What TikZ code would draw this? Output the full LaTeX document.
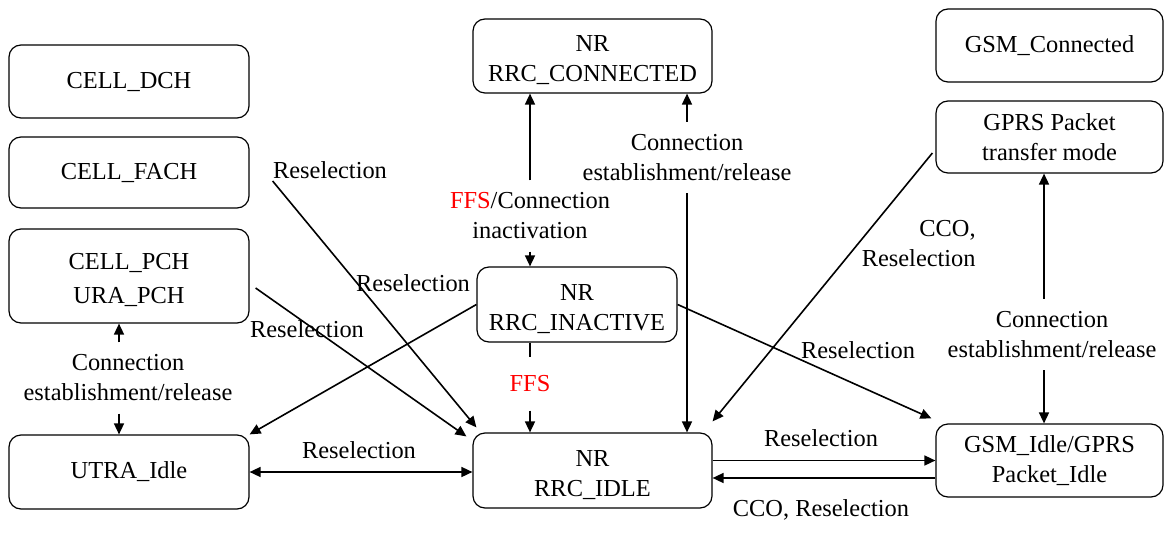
\documentclass[tikz,border=0pt]{standalone}
\usepackage{fontspec}
\setmainfont{Liberation Serif}
\usetikzlibrary{arrows.meta}
\tikzset{state/.style = {draw, rounded corners = 6pt, align = center, inner sep = 0, line width = 0.6pt}}
\tikzset{lbl/.style = {align = center, inner sep = 0}}
\tikzset{vlbl/.style = {align = center, inner sep = 6pt}}
\tikzset{arr/.style = {line width = 0.8pt, -{Triangle[length = 5.5pt, width = 5pt]}}}
\tikzset{dbl/.style = {line width = 0.8pt, {Triangle[length = 5.5pt, width = 5pt]}-{Triangle[length = 5.5pt, width = 5pt]}}}
\newcommand\topstrut{\rule{0pt}{12.5pt}}

\begin{document}
\begin{tikzpicture}[x = 0.5pt, y = -0.5pt, font = \fontsize{12.2}{15}\selectfont]
    \useasboundingbox (0, 0) rectangle (1165, 534);

    % UTRA states
    \node [state, minimum width = 120pt, minimum height = 36.5pt] (dch) at (129, 81.5) {CELL\_DCH};
    \node [state, minimum width = 120pt, minimum height = 35.5pt] (fach) at (129, 172.5) {CELL\_FACH};
    \node [state, minimum width = 120pt, minimum height = 47pt] (pch) at (129, 276) {\topstrut CELL\_PCH\\[2pt]URA\_PCH};
    \node [state, minimum width = 120pt, minimum height = 37pt] (utra) at (129, 472) {UTRA\_Idle};

    % NR states
    \node [state, minimum width = 119.5pt, minimum height = 37pt] (conn) at (592.5, 56) {\topstrut NR\\RRC\_CONNECTED};
    \node [state, minimum width = 100pt, minimum height = 37.5pt] (inact) at (577, 304.5) {\topstrut NR\\RRC\_INACTIVE};
    \node [state, minimum width = 119.5pt, minimum height = 37.5pt] (idle) at (592.5, 470.5) {\topstrut NR\\RRC\_IDLE};

    % GSM states
    \node [state, minimum width = 113.5pt, minimum height = 36.5pt] (gsmc) at (1049.5, 45.5) {GSM\_Connected};
    \node [state, minimum width = 113.5pt, minimum height = 36pt] (gprs) at (1049.5, 137) {GPRS Packet\\transfer mode};
    \node [state, minimum width = 113.5pt, minimum height = 36.5pt] (gsmi) at (1049.5, 460.5) {GSM\_Idle/GPRS\\Packet\_Idle};

    % labels
    \node [lbl] (rFach) at (330, 170) {Reselection};
    \node [lbl] (rPch) at (307, 329) {Reselection};
    \node [lbl] (rInU) at (413, 283) {Reselection};
    \node [lbl] (rUI) at (359, 450) {Reselection};
    \node [vlbl] (cUP) at (128, 378) {Connection\\establishment/release};
    \node [vlbl] (cIC) at (530, 216) {\textcolor{red}{FFS}/Connection\\inactivation};
    \node [vlbl] (cCI) at (687, 157.5) {Connection\\establishment/release};
    \node [vlbl, inner sep = 9pt, text = red] (ffs) at (530, 384) {FFS};
    \node [lbl] (rInG) at (858, 350) {Reselection};
    \node [lbl, align = right, anchor = east] (rGP) at (976, 243.5) {CCO,\\Reselection};
    \node [vlbl] (cGG) at (1052, 334.5) {Connection\\establishment/release};
    \node [lbl] (rIG) at (821, 438) {Reselection};
    \node [lbl] (rGI) at (821, 510) {CCO, Reselection};

    % transitions
    \draw [arr] ([shift = {(23, 8.5)}]fach.east) -- ([shift = {(4, -5)}]idle.north west);
    \draw [arr] ([shift = {(6, 12)}]pch.east) -- ([shift = {(-6, 4)}]idle.north west);
    \draw [arr] (inact.west) -- (utra.north east);
    \draw [dbl] (utra.east) -- (utra.east -| idle.west);
    \draw [arr] ([xshift = -4.5pt]cUP.north) -- ([xshift = -4.5pt]cUP.north |- pch.south);
    \draw [arr] ([xshift = -4.5pt]cUP.south) -- ([xshift = -4.5pt]cUP.south |- utra.north);
    \draw [arr] (cIC.north) -- (cIC.north |- conn.south);
    \draw [arr] (cIC.south) -- (cIC.south |- inact.north);
    \draw [arr] (cCI.north) -- (cCI.north |- conn.south);
    \draw [arr] (cCI.south) -- (cCI.south |- idle.north);
    \draw [line width = 0.8pt] (ffs.north |- inact.south) -- (ffs.north);
    \draw [arr] (ffs.south) -- (ffs.south |- idle.north);
    \draw [arr] (inact.east) -- ([shift = {(-4, -5)}]gsmi.north west);
    \draw [arr] ([shift = {(-3, 16)}]gprs.west) -- ([shift = {(0, -11)}]idle.north east);
    \draw [arr] ([xshift = -4pt]cGG.north) -- ([xshift = -4pt]cGG.north |- gprs.south);
    \draw [arr] ([xshift = -4pt]cGG.south) -- ([xshift = -4pt]cGG.south |- gsmi.north);
    \draw [arr] ([shift = {(0, -10)}]idle.east) -- ([shift = {(0, -10)}]idle.east -| gsmi.west);
    \draw [arr] ([shift = {(0, 7.5)}]idle.east -| gsmi.west) -- ([shift = {(0, 7.5)}]idle.east);
\end{tikzpicture}
\end{document}
